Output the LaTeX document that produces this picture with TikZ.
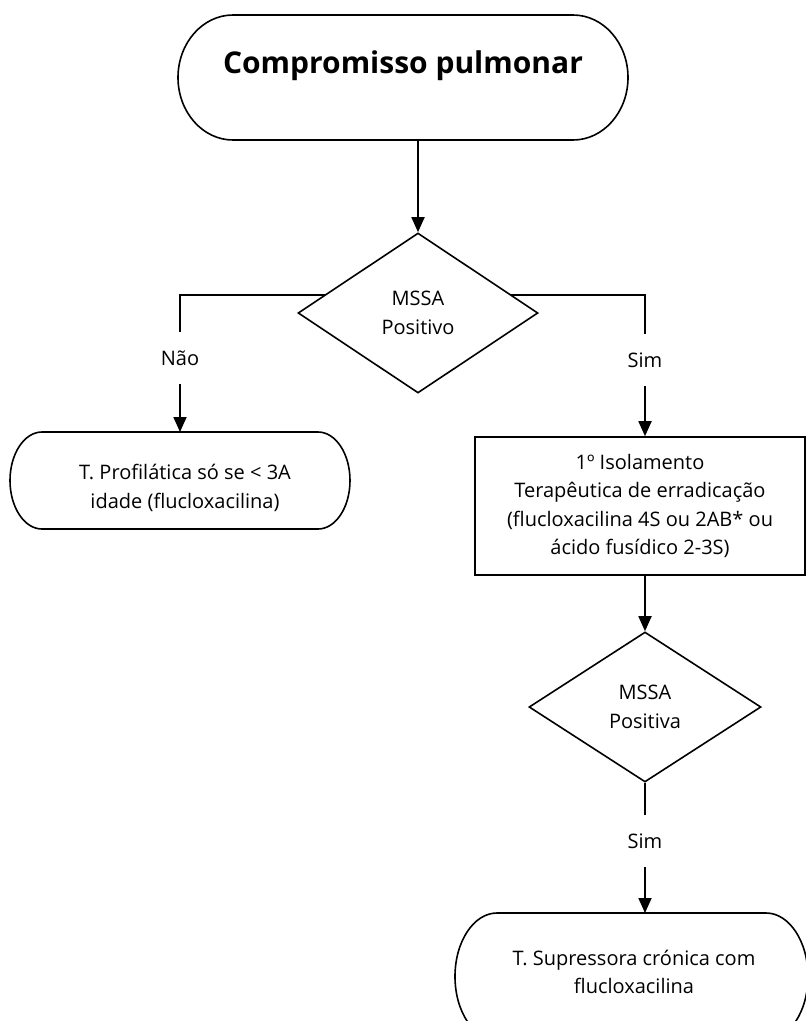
\documentclass[tikz,border=0pt]{standalone}
\usepackage{fontspec}
\setmainfont{Open Sans}
\usetikzlibrary{arrows.meta,shapes.geometric,backgrounds}
% outline of a terminal: straight top/bottom, half-elliptic ends
\newcommand{\termoutline}[3]{%
  \draw[line width=1.6pt,line join=round]
    ([xshift=#2]#1.north west) -- ([xshift=-#2]#1.north east)
    arc[start angle=90,end angle=-90,x radius=#2,y radius=#3]
    -- ([xshift=#2]#1.south west)
    arc[start angle=270,end angle=90,x radius=#2,y radius=#3] -- cycle;}
\begin{document}
\begin{tikzpicture}[x=1pt,y=-1pt,line width=1.6pt,
  txt/.style={font=\fontsize{20}{28.5}\selectfont,align=center},
  termbox/.style={draw=none,inner sep=0pt,outer sep=0pt},
  decision/.style={txt,diamond,draw,fill=white,inner sep=0pt,line width=1.6pt},
  procbox/.style={txt,rectangle,draw,fill=white,inner sep=0pt,line width=1.6pt},
  arr/.style={line width=1.8pt,-{Triangle[length=15pt,width=13pt]}},
  lbl/.style={txt,fill=white,minimum height=52pt,inner sep=2pt}]
\useasboundingbox (0,0) rectangle (806,1021);

% start terminal
\node[termbox,minimum width=450pt,minimum height=125pt] (t1) at (403,77.5) {};
\termoutline{t1}{55pt}{62.5pt}
\node[txt,font=\fontsize{30}{36}\selectfont\bfseries] (t1txt) at (403,66)
  {Compromisso pulmonar};

% first decision
\node[decision,minimum width=240pt,minimum height=160pt] (d1) at (418,313)
  {MSSA\\Positivo};

% left outcome
\node[termbox,minimum width=340pt,minimum height=97pt] (t2) at (180,480.5) {};
\termoutline{t2}{32pt}{48.5pt}
\node[txt] (t2txt) at (185,488)
  {T. Profilática só se < 3A\\idade (flucloxacilina)};

% eradication box
\node[procbox,minimum width=330pt,minimum height=138pt] (b1) at (640,506)
  {1º Isolamento\\Terapêutica de erradicação\\(flucloxacilina 4S ou 2AB* ou\\ácido fusídico 2-3S)};

% second decision
\node[decision,minimum width=232pt,minimum height=150pt] (d2) at (645,707)
  {MSSA\\Positiva};

% final terminal
\node[termbox,minimum width=353pt,minimum height=127pt] (t3) at (631.5,976.5) {};
\termoutline{t3}{42pt}{63.5pt}
\node[txt] (t3txt) at (634,972)
  {T. Supressora crónica com\\flucloxacilina};

% connectors
\begin{scope}[on background layer]
  \draw[arr] (t1.south -| d1.north) -- (d1.north);
  \draw[arr] ([yshift=18pt]d1.center) -| (t2.north) node[lbl,pos=0.73] {Não};
  \draw[arr] ([yshift=18pt]d1.center) -| ([xshift=5pt]b1.north) node[lbl,pos=0.73] {Sim};
  \draw[arr] ([xshift=5pt]b1.south) -- (d2.north);
  \draw[arr] (d2.south) -- (d2.south |- t3.north) node[lbl,pos=0.45] {Sim};
\end{scope}
\end{tikzpicture}
\end{document}
